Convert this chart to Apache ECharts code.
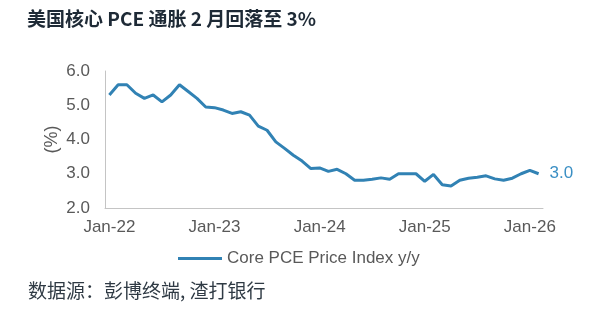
<!DOCTYPE html>
<html>
<head>
<meta charset="utf-8">
<script src="https://cdn.jsdelivr.net/npm/echarts@6/dist/echarts.min.js"></script>
<style>
  html, body { margin: 0; padding: 0; background: #fff; }
  #chart { width: 604px; height: 328px; }
</style>
</head>
<body>
<div id="chart"></div>
<script>
// Monthly core PCE, year over year (%), Jan-22 through Feb-26
const months = [
  'Jan-22','Feb-22','Mar-22','Apr-22','May-22','Jun-22','Jul-22','Aug-22','Sep-22','Oct-22','Nov-22','Dec-22',
  'Jan-23','Feb-23','Mar-23','Apr-23','May-23','Jun-23','Jul-23','Aug-23','Sep-23','Oct-23','Nov-23','Dec-23',
  'Jan-24','Feb-24','Mar-24','Apr-24','May-24','Jun-24','Jul-24','Aug-24','Sep-24','Oct-24','Nov-24','Dec-24',
  'Jan-25','Feb-25','Mar-25','Apr-25','May-25','Jun-25','Jul-25','Aug-25','Sep-25','Oct-25','Nov-25','Dec-25',
  'Jan-26','Feb-26'
];
const corePce = [
  5.3, 5.6, 5.6, 5.35, 5.2, 5.3, 5.1, 5.3, 5.6, 5.4, 5.2, 4.95,
  4.93, 4.86, 4.76, 4.81, 4.71, 4.39, 4.27, 3.93, 3.74, 3.54, 3.37, 3.15,
  3.17, 3.07, 3.13, 3.0, 2.81, 2.81, 2.84, 2.88, 2.84, 3.0, 3.0, 3.0,
  2.78, 2.98, 2.68, 2.64, 2.81, 2.87, 2.9, 2.94, 2.85, 2.81, 2.87, 3.0,
  3.1, 3.0
];
const yTicks = { min: 2, max: 6, step: 1 };
const seriesName = 'Core PCE Price Index y/y';
const titleText = '美国核心 PCE 通胀 2 月回落至 3%';
const sourceText = '数据源：彭博终端, 渣打银行';

const lineColor = '#3182b4';
const axisText = '#595959';
const axisLine = '#c4c4c4';
const latin = 'Liberation Sans, Arial, sans-serif';
const cjk = '"Noto Sans CJK SC", "Noto Sans", sans-serif';

const chart = echarts.init(document.getElementById('chart'), null, { renderer: 'canvas' });

chart.setOption({
  animation: false,
  backgroundColor: '#fff',
  title: [
    {
      text: titleText,
      left: 22, top: 4,
      textStyle: { fontFamily: cjk, fontSize: 19, fontWeight: 'bold', color: '#1e2a36' }
    },
    {
      text: sourceText,
      left: 23, top: 276,
      textStyle: { fontFamily: cjk, fontSize: 19, fontWeight: 'normal', color: '#2f3a44' }
    }
  ],
  legend: {
    left: 173, top: 245,
    itemWidth: 44, itemHeight: 14, itemGap: 4,
    icon: 'path://M0,4 L44,4 L44,7 L0,7 Z',
    textStyle: { fontFamily: latin, fontSize: 17, color: axisText },
    data: [seriesName]
  },
  grid: { left: 105, right: 61, top: 71, bottom: 120 },
  xAxis: {
    type: 'category',
    data: months,
    boundaryGap: true,
    axisLine: { lineStyle: { color: axisLine, width: 1 } },
    axisTick: { interval: 11, length: 4, lineStyle: { color: axisLine } },
    axisLabel: { interval: 11, margin: 11, fontFamily: latin, fontSize: 17, color: axisText },
    splitLine: { show: false }
  },
  yAxis: {
    type: 'value',
    min: yTicks.min, max: yTicks.max, interval: yTicks.step,
    name: '(%)',
    nameLocation: 'middle',
    nameGap: 44,
    nameMoveOverlap: false,
    nameRotate: 90,
    nameTextStyle: { fontFamily: latin, fontSize: 18, color: axisText },
    axisLine: { show: true, lineStyle: { color: axisLine, width: 1 } },
    axisTick: { show: false },
    axisLabel: { margin: 15, fontFamily: latin, fontSize: 17, color: axisText,
      formatter: v => v.toFixed(1) },
    splitLine: { show: false }
  },
  series: [{
    name: seriesName,
    type: 'line',
    data: corePce,
    showSymbol: false,
    symbol: 'none',
    lineStyle: { color: lineColor, width: 3 },
    itemStyle: { color: lineColor },
    endLabel: {
      show: true,
      distance: 11,
      formatter: p => Number(p.value).toFixed(1),
      fontFamily: latin, fontSize: 17, color: '#3a8fc4'
    }
  }]
});
</script>
</body>
</html>
